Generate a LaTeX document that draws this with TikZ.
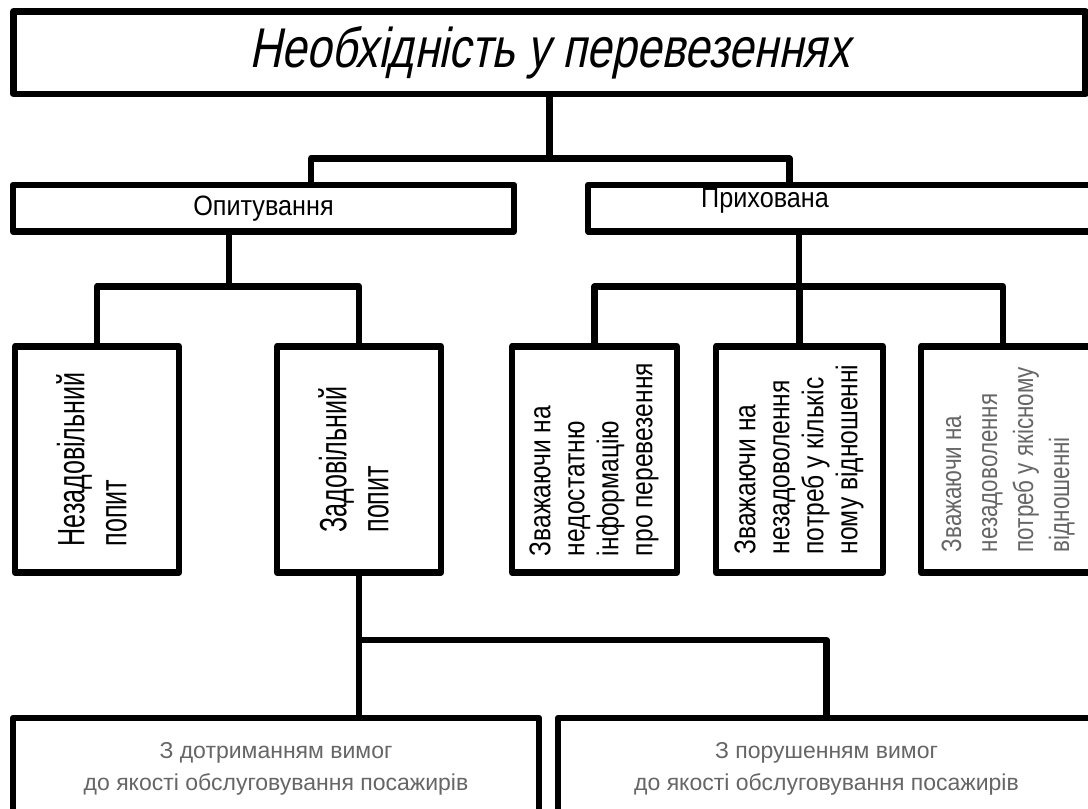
\documentclass[tikz,border=0pt]{standalone}
\usepackage{fontspec}
\usepackage{tikz}
\usepackage{xcolor}
\setmainfont{Liberation Sans}
\newfontfamily\needfont[FakeStretch=0.8,FakeSlant=0.2]{Liberation Sans}
\newfontfamily\rowfont[FakeStretch=0.9]{Liberation Sans}
\newfontfamily\tallfont[FakeStretch=0.66]{Liberation Sans}
\newfontfamily\narrowfont[FakeStretch=0.82]{Liberation Sans}
\newfontfamily\faintfont[FakeStretch=0.8]{Liberation Sans}
\tikzset{
    frame-box/.style = {draw, line width=6.5pt, line join=round, rectangle, inner sep=0pt},
    link/.style = {line width=6.5pt, line join=round},
    need-text/.style = {font=\needfont\fontsize{56}{60}\selectfont},
    row-text/.style = {font=\rowfont\fontsize{28}{32}\selectfont},
    tall-text/.style = {font=\tallfont\fontsize{38}{42}\selectfont},
    narrow-text/.style = {font=\narrowfont\fontsize{30}{34}\selectfont},
    faint-text/.style = {font=\faintfont\fontsize{28}{36}\selectfont, text=black!60},
    low-text/.style = {font=\fontsize{23}{32}\selectfont, text=black!60, align=center},
}
\newcommand{\upright}[1]{\rotatebox{90}{\begin{tabular}{@{}l@{}}#1\end{tabular}}}

\begin{document}
\begin{tikzpicture}[x=1pt,y=-1pt]
\useasboundingbox (0,0) rectangle (1088,809);
\clip (0,0) rectangle (1088,809);
\fill[white] (0,0) rectangle (1088,809);

\node[frame-box, need-text, minimum width=1072pt, minimum height=82.5pt] (need) at (549.5,52.75) {Необхідність у перевезеннях};

\node[frame-box, row-text, minimum width=501pt, minimum height=46.5pt] (survey) at (263.5,208.25) {Опитування};
\node[frame-box, minimum width=507pt, minimum height=46.5pt] (hidden) at (841.5,208.25) {};
\node[row-text, inner sep=1pt] (hidden-label) at (765,201) {Прихована};

\node[frame-box, tall-text, minimum width=164pt, minimum height=226pt] (unsat) at (97,459.5) {\upright{Незадовільний\\попит}};
\node[frame-box, tall-text, minimum width=164pt, minimum height=226pt] (sat) at (359,459.5) {\upright{Задовільний\\попит}};
\node[frame-box, narrow-text, minimum width=165pt, minimum height=226pt] (info) at (594.5,459.5) {\upright{Зважаючи на\\недостатню\\інформацію\\про перевезення}};
\node[frame-box, narrow-text, minimum width=167pt, minimum height=226pt] (quant) at (799.5,459.5) {\upright{Зважаючи на\\незадоволення\\потреб у кількіс\\ному відношенні}};
\node[frame-box, faint-text, minimum width=174pt, minimum height=226pt] (qual) at (1008,459.5) {\upright{Зважаючи на\\незадоволення\\потреб у якісному\\відношенні}};

\node[frame-box, low-text, minimum width=526pt, minimum height=102pt] (keep) at (276,769) {З дотриманням вимог\\до якості обслуговування посажирів};
\node[frame-box, low-text, minimum width=537pt, minimum height=102pt] (break) at (826.5,769) {З порушенням вимог\\до якості обслуговування посажирів};

\coordinate (top-bar) at (549.5,158.5);
\coordinate (left-bar) at (229,286.5);
\coordinate (right-bar) at (799,286.5);
\coordinate (low-bar) at (359,640);

\draw[link] (need) -- (top-bar);
\draw[link] ([xshift=47.5pt]survey.north) |- (top-bar) -| ([xshift=-52pt]hidden.north);

\draw[link] ([xshift=-34.5pt]survey.south) -- (left-bar);
\draw[link] (unsat) |- (left-bar) -| (sat);

\draw[link] ([xshift=-42.5pt]hidden.south) -- (right-bar);
\draw[link] (info) |- (right-bar) -| ([xshift=-5pt]qual.north);
\draw[link] (quant) -- (quant |- right-bar);

\draw[link] (sat) -- (sat |- keep.north);
\draw[link] (low-bar) -| (break);
\end{tikzpicture}
\end{document}
